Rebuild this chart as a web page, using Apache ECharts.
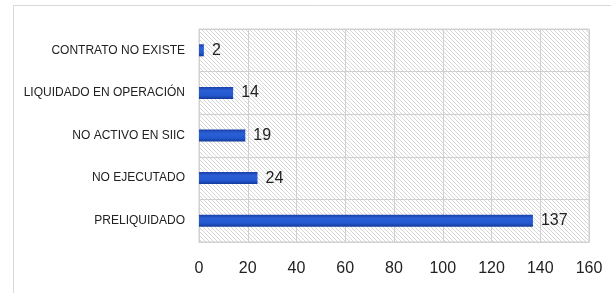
<!DOCTYPE html>
<html>
<head>
<meta charset="utf-8">
<script src="https://cdn.jsdelivr.net/npm/echarts@6/dist/echarts.min.js"></script>
<style>
html, body { margin: 0; padding: 0; background: #fff; }
#chart { width: 611px; height: 293px; }
</style>
</head>
<body>
<div id="chart"></div>
<script>
var categories = ['CONTRATO NO EXISTE', 'LIQUIDADO EN OPERACIÓN', 'NO ACTIVO EN SIIC', 'NO EJECUTADO', 'PRELIQUIDADO'];
var values = [2, 14, 19, 24, 137];
var xTicks = [0, 20, 40, 60, 80, 100, 120, 140, 160];

// diagonal hatch for the plot background
function makeHatch() {
	var c = document.createElement('canvas');
	c.width = 4;
	c.height = 4;
	var ctx = c.getContext('2d');
	ctx.fillStyle = '#ffffff';
	ctx.fillRect(0, 0, 4, 4);
	ctx.strokeStyle = '#d6d6d6';
	ctx.lineWidth = 1;
	ctx.beginPath();
	ctx.moveTo(-1, -1); ctx.lineTo(5, 5);
	ctx.moveTo(-1, 3); ctx.lineTo(1, 5);
	ctx.moveTo(3, -1); ctx.lineTo(5, 1);
	ctx.stroke();
	return c;
}

var myChart = echarts.init(document.getElementById('chart'));
var option = {
	animation: false,
	backgroundColor: '#ffffff',
	graphic: [{
		type: 'polyline',
		shape: { points: [[13.5, 293], [13.5, 5.5], [611, 5.5]] },
		style: { stroke: '#d8d8d8', lineWidth: 1, fill: null }
	}],
	grid: {
		left: 199,
		right: 22,
		top: 29,
		bottom: 51,
		show: true,
		borderColor: '#d0d0d0',
		borderWidth: 1,
		backgroundColor: { image: makeHatch(), repeat: 'repeat' }
	},
	xAxis: {
		type: 'value',
		min: xTicks[0],
		max: xTicks[xTicks.length - 1],
		interval: 20,
		axisLine: { show: true, lineStyle: { color: '#d0d0d0' } },
		axisTick: { show: false },
		axisLabel: {
			color: '#222',
			fontSize: 16,
			fontFamily: 'Liberation Sans, sans-serif',
			margin: 19
		},
		splitLine: { show: true, lineStyle: { color: '#d0d0d0', width: 1 } }
	},
	yAxis: {
		type: 'category',
		data: categories,
		inverse: true,
		axisLine: { show: true, lineStyle: { color: '#d0d0d0' } },
		axisTick: { show: false },
		axisLabel: {
			color: '#222',
			fontSize: 12,
			fontFamily: 'Liberation Sans, sans-serif',
			margin: 14
		},
		splitLine: { show: true, lineStyle: { color: '#d0d0d0', width: 1 } }
	},
	series: [{
		type: 'bar',
		data: values,
		barWidth: 12,
		itemStyle: {
			color: new echarts.graphic.LinearGradient(0, 0, 0, 1, [
				{ offset: 0, color: '#1a3fa8' },
				{ offset: 0.3, color: '#2a5fd6' },
				{ offset: 0.7, color: '#2358d0' },
				{ offset: 1, color: '#143a9a' }
			])
		},
		label: {
			show: true,
			position: 'right',
			distance: 8,
			color: '#222',
			fontSize: 16,
			fontFamily: 'Liberation Sans, sans-serif'
		}
	}]
};
myChart.setOption(option);
</script>
</body>
</html>
